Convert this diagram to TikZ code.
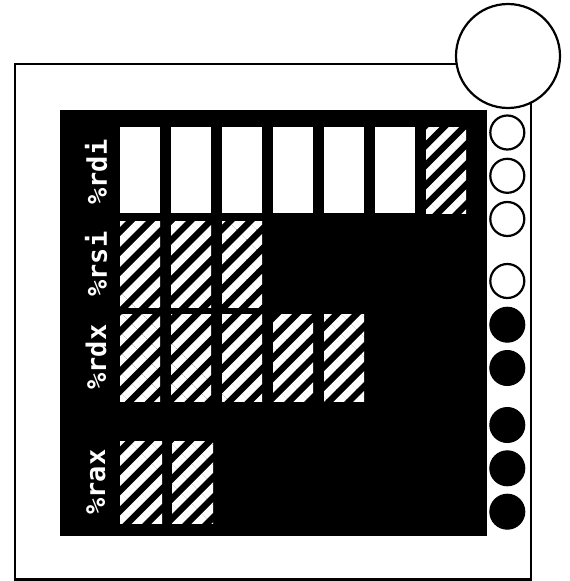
\documentclass[tikz,border=0pt]{standalone}
\usepackage{fontspec}
\setmonofont{DejaVu Sans Mono}
\usetikzlibrary{patterns.meta}
\tikzset{
  outerbox/.style={draw=black,line width=2.2pt,fill=white},
  panel/.style={fill=black},
  plainbar/.style={fill=white},
  hatchbar/.style={pattern={Lines[angle=45,distance=14.1pt,line width=7.4pt]},pattern color=white},
  reglabel/.style={text=white,font=\ttfamily\bfseries\fontsize{27}{27}\selectfont,rotate=90,inner sep=0pt},
  bigdot/.style={draw=black,line width=2.2pt,fill=white},
  opendot/.style={draw=black,line width=2.2pt,fill=white},
  fulldot/.style={draw=black,line width=1pt,fill=black}
}
\begin{document}
\begin{tikzpicture}[x=1pt,y=-1pt]
\useasboundingbox (0,0) rectangle (570,581);
\draw[outerbox] (15,64) rectangle (531,579.5);
\fill[panel] (60,110) rectangle (487,536);
% labels
\node[reglabel] (lrdi) at (96,172) {\%rdi};
\node[reglabel] (lrsi) at (96,264) {\%rsi};
\node[reglabel] (lrdx) at (96,357) {\%rdx};
\node[reglabel] (lrax) at (96,482) {\%rax};
% rdi row
\foreach \i in {0,...,5} {
  \fill[plainbar] ({120+51*\i},127) rectangle ({160+51*\i},213);
}
\fill[hatchbar] (426,127) rectangle (466,213);
% rsi row
\foreach \i in {0,...,2} {
  \fill[hatchbar] ({120+51*\i},221) rectangle ({160+51*\i},307);
}
% rdx row
\foreach \i in {0,...,4} {
  \fill[hatchbar] ({120+51*\i},314) rectangle ({160+51*\i},401);
}
% rax row
\fill[hatchbar] (120,441) rectangle (162,523);
\fill[hatchbar] (172,441) rectangle (213,523);
% circles
\draw[bigdot] (508,56) circle (52);
\foreach \y in {132.5,175.8,219,281} {
  \draw[opendot] (507.3,\y) circle (17);
}
\foreach \y in {324.7,368,425,468.3,511.7} {
  \draw[fulldot] (507.3,\y) circle (17.5);
}
\end{tikzpicture}
\end{document}
